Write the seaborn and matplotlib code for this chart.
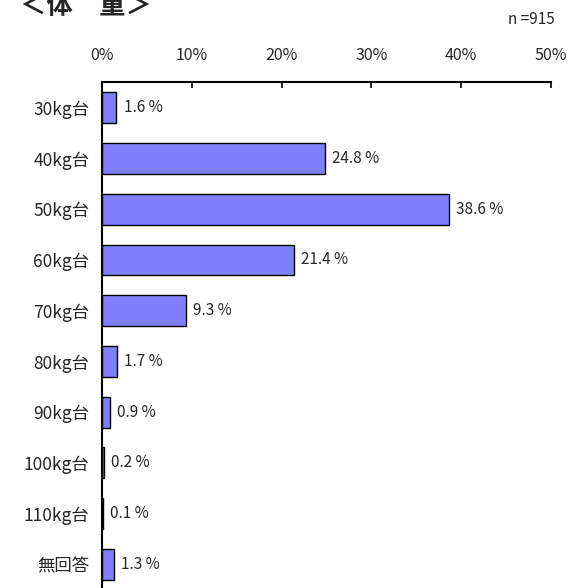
import matplotlib
matplotlib.use('Agg')
import matplotlib.pyplot as plt
import seaborn as sns
import pandas as pd

# data
categories = ['30kg台', '40kg台', '50kg台', '60kg台', '70kg台',
              '80kg台', '90kg台', '100kg台', '110kg台', '無回答']
percent = [1.6, 24.8, 38.6, 21.4, 9.3, 1.7, 0.9, 0.2, 0.1, 1.3]
xticks = [0, 10, 20, 30, 40, 50]

sns.set_style('white')
plt.rcParams['font.family'] = ['Noto Sans CJK JP', 'DejaVu Sans']

df = pd.DataFrame({'cat': categories, 'pct': percent})

fig = plt.figure(figsize=(5.72, 5.88), dpi=100)
ax = fig.add_axes([0.1783, 0.0, 0.785, 0.8605])

sns.barplot(data=df, x='pct', y='cat', orient='h', color='#8080FF',
            edgecolor='black', linewidth=1.0, width=0.61, saturation=1, ax=ax)

ax.set_xlim(0, 50)
ax.set_ylim(9.47, -0.51)
ax.set_xticks(xticks)
ax.set_xticklabels([f'{t}%' for t in xticks], fontsize=11.5)
ax.xaxis.tick_top()
ax.tick_params(axis='x', direction='in', length=4, width=1.2, pad=13, color='black')
ax.tick_params(axis='y', length=0, pad=9, labelsize=12.5)
ax.set_xlabel('')
ax.set_ylabel('')

for s in ['right', 'bottom']:
    ax.spines[s].set_visible(False)
for s in ['top', 'left']:
    ax.spines[s].set_color('black')
    ax.spines[s].set_linewidth(1.5)
    ax.spines[s].set_zorder(5)

# value labels
for i, v in enumerate(percent):
    ax.text(v + 0.8, i, f'{v} %', va='center', ha='left', fontsize=11)

fig.text(20 / 572, 1 - 6 / 588, '＜体　重＞', fontsize=19, fontweight='bold',
         ha='left', va='center')
fig.text(0.97, 1 - 20 / 588, 'n =915', fontsize=11, ha='right', va='center')

fig.savefig('out.png', dpi=100)
